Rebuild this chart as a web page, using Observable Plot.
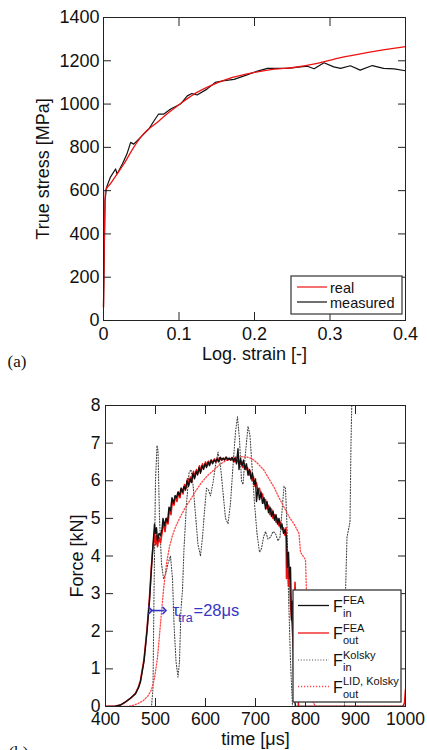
<!DOCTYPE html>
<html><head><meta charset="utf-8">
<script src="https://cdn.jsdelivr.net/npm/d3@7"></script>
<script src="https://cdn.jsdelivr.net/npm/@observablehq/plot@0.6"></script>
<style>
html,body{margin:0;padding:0;background:#fff;width:427px;height:750px;overflow:hidden}
#wrap svg{display:block}
</style></head><body><div id="wrap"></div>
<script>
// ---------- data: chart (a) ----------
const xTicksA = [0, 0.1, 0.2, 0.3, 0.4];
const yTicksA = [0, 200, 400, 600, 800, 1000, 1200, 1400];
const legendA = ["real", "measured"];
const realCurve = [[0,60],[0.001,350],[0.0026,600],[0.009,631],[0.018,677],[0.027,723],[0.040,800],[0.053,862],[0.071,915],[0.084,954],[0.1,997],[0.12,1046],[0.142,1085],[0.164,1115],[0.2,1146],[0.226,1161],[0.252,1169],[0.283,1188],[0.314,1215],[0.349,1238],[0.4,1265]];
const measuredCurve = [[0,62],[0.001,308],[0.002,554],[0.004,615],[0.009,661],[0.016,700],[0.018,677],[0.025,723],[0.031,769],[0.036,823],[0.04,815],[0.049,846],[0.06,885],[0.067,923],[0.073,954],[0.08,954],[0.089,977],[0.102,1000],[0.111,1038],[0.117,1049],[0.124,1042],[0.137,1069],[0.148,1100],[0.16,1108],[0.173,1114],[0.19,1135],[0.203,1151],[0.217,1165],[0.23,1165],[0.243,1165],[0.261,1172],[0.27,1175],[0.279,1163],[0.292,1191],[0.305,1172],[0.314,1165],[0.327,1177],[0.34,1157],[0.356,1178],[0.371,1165],[0.385,1163],[0.4,1154]];

// ---------- data: chart (b) ----------
const xTicksB = [400, 500, 600, 700, 800, 900, 1000];
const yTicksB = [0, 1, 2, 3, 4, 5, 6, 7, 8];
const legendB = [["FEA","in"],["FEA","out"],["Kolsky","in"],["LID, Kolsky","out"]];
const tauSpan = [490, 518];
const tauLevel = 2.55;
const feaIn = [[400,0],[420,0.01],[430,0.04],[440,0.12],[450,0.22],[460,0.34],[466,0.5],[470,0.66],[477,1.2],[483,2.0],[488,2.8],[492,3.7],[495,4.3],[498,4.85],[500,4.6],[502,4.75],[504,4.4],[507,4.6],[510,4.55],[513,4.7],[515,5.0],[518,4.8],[521,5.0],[524,4.9],[527,5.3],[530,5.2],[533,5.55],[536,5.4],[539,5.6],[542,5.55],[545,5.7],[548,5.6],[551,5.8],[554,5.7],[557,5.85],[560,5.75],[563,6.0],[566,5.85],[569,6.05],[572,5.95],[575,6.2],[578,6.05],[581,6.25],[584,6.15],[587,6.35],[590,6.2],[593,6.4],[596,6.3],[599,6.45],[602,6.35],[605,6.5],[608,6.4],[611,6.55],[614,6.45],[617,6.55],[620,6.5],[623,6.58],[626,6.5],[629,6.62],[632,6.55],[635,6.6],[638,6.55],[641,6.63],[644,6.56],[647,6.6],[650,6.55],[653,6.62],[656,6.52],[659,6.6],[662,6.45],[665,6.85],[667,6.3],[670,6.6],[673,6.4],[676,6.55],[679,6.3],[682,6.45],[685,6.15],[688,6.3],[691,6.05],[694,6.2],[697,5.9],[700,6.05],[702,5.45],[705,5.8],[708,5.5],[711,5.7],[714,5.4],[717,5.55],[720,5.25],[723,5.45],[726,5.15],[729,5.3],[732,5.05],[735,5.2],[738,4.95],[741,5.1],[744,4.85],[747,5.0],[750,4.75],[753,4.85],[756,4.6],[759,4.7],[762,4.5],[764,3.7],[766,4.1],[768,3.4],[770,3.7],[772,2.3],[774,2.8],[776,1.0],[778,0.2],[780,0],[1000,0]];
const feaOut = [[400,0],[420,0.01],[430,0.04],[440,0.12],[450,0.22],[460,0.35],[466,0.52],[470,0.7],[477,1.25],[483,2.05],[488,2.9],[492,3.75],[495,4.25],[498,4.6],[500,4.3],[502,4.55],[504,4.25],[507,4.5],[510,4.35],[513,4.6],[516,4.9],[519,4.65],[522,5.0],[525,4.85],[528,5.25],[531,5.1],[534,5.5],[537,5.35],[540,5.6],[543,5.45],[546,5.7],[549,5.55],[552,5.8],[555,5.65],[558,5.9],[561,5.8],[564,6.05],[567,5.9],[570,6.1],[573,6.0],[576,6.25],[579,6.1],[582,6.3],[585,6.2],[588,6.4],[591,6.25],[594,6.45],[597,6.35],[600,6.5],[603,6.4],[606,6.52],[609,6.45],[612,6.55],[615,6.48],[618,6.58],[621,6.5],[624,6.6],[627,6.52],[630,6.62],[633,6.55],[636,6.6],[639,6.56],[642,6.62],[645,6.55],[648,6.6],[651,6.55],[654,6.6],[657,6.5],[660,6.62],[663,6.5],[666,6.55],[669,6.45],[672,6.5],[675,6.35],[678,6.45],[681,6.3],[684,6.35],[687,6.15],[690,6.25],[693,6.0],[696,6.1],[699,5.85],[702,5.95],[705,5.7],[708,5.8],[711,5.55],[714,5.65],[717,5.4],[720,5.5],[723,5.25],[726,5.35],[729,5.1],[732,5.25],[735,5.0],[738,5.1],[741,4.9],[744,5.0],[747,4.8],[750,4.9],[753,4.7],[756,4.75],[759,4.55],[761,4.75],[762,3.4],[764,3.9],[766,3.2],[768,3.6],[770,2.7],[773,2.2],[776,1.5],[779,3.3],[781,2.5],[783,0.8],[786,0],[995,0],[998,0.1],[1000,0.45]];
const kolskyIn = [[400,0],[492,0],[495,0.5],[497,3.0],[500,6.0],[503,6.94],[505,6.8],[508,5.0],[512,3.8],[516,3.4],[520,3.5],[525,3.8],[530,4.0],[534,3.4],[537,2.2],[541,1.2],[545,0.78],[548,1.2],[551,2.6],[554,3.1],[557,4.2],[562,5.4],[567,6.2],[571,6.3],[575,5.9],[580,5.1],[585,4.3],[590,4.0],[594,4.5],[598,5.2],[602,5.8],[606,5.75],[610,5.6],[615,5.95],[620,6.4],[625,6.76],[630,6.4],[635,5.7],[640,5.0],[645,4.86],[650,5.4],[655,6.4],[660,7.3],[664,7.7],[668,7.1],[672,6.0],[675,5.9],[679,6.6],[685,7.45],[689,7.2],[693,6.4],[698,5.4],[703,4.6],[708,4.1],[712,4.2],[716,4.5],[720,4.65],[725,4.45],[730,4.5],[735,4.65],[740,4.6],[745,4.4],[749,4.5],[753,5.2],[757,5.85],[760,5.8],[763,4.8],[766,3.0],[770,1.2],[774,0],[878,0],[880,3.0],[883,4.5],[889,4.9],[891,7.0],[894,9.0]];
const kolskyOut = [[400,0],[445,0],[455,0.03],[465,0.08],[475,0.15],[485,0.28],[492,0.45],[498,0.75],[504,1.3],[510,2.2],[516,3.1],[522,3.8],[528,4.25],[534,4.55],[541,4.8],[550,5.05],[560,5.3],[570,5.5],[580,5.72],[592,5.95],[605,6.15],[618,6.3],[630,6.45],[643,6.55],[657,6.62],[670,6.64],[683,6.63],[690,6.6],[697,6.55],[705,6.45],[717,6.28],[727,6.05],[737,5.83],[747,5.55],[757,5.3],[767,5.05],[777,4.85],[787,4.6],[790,4.1],[795,4.0],[800,3.9],[802,3.0],[806,1.5],[812,0.2],[820,0],[1000,0]];

// ---------- styling ----------
const FONT = "'Liberation Sans', Arial, Helvetica, sans-serif";
const SERIF = "'Liberation Serif', 'Times New Roman', serif";
const RED = "#ee1111", BLACK = "#111", GREY = "#444", PINK = "#ff4545", BLUE = "#3636c4";
const fmt = d => String(d);

function inwardTicks(xT, yT, size) {
  return [
    Plot.axisX(xT, {anchor: "bottom", tickSize: size, dy: -size, tickFormat: () => "", label: null, stroke: "#222"}),
    Plot.axisX(xT, {anchor: "top", tickSize: size, dy: size, tickFormat: () => "", label: null, stroke: "#222"}),
    Plot.axisY(yT, {anchor: "left", tickSize: size, dx: size, tickFormat: () => "", label: null, stroke: "#222"}),
    Plot.axisY(yT, {anchor: "right", tickSize: size, dx: -size, tickFormat: () => "", label: null, stroke: "#222"})
  ];
}

// ---------- chart (a) ----------
const plotA = Plot.plot({
  width: 427, height: 370,
  marginLeft: 103, marginRight: 22, marginTop: 17, marginBottom: 50,
  style: {fontFamily: FONT, fontSize: "18px", background: "white", color: "#111", overflow: "visible"},
  x: {domain: [0, 0.4]},
  y: {domain: [0, 1400]},
  marks: [
    Plot.line(measuredCurve, {x: d => d[0], y: d => d[1], stroke: BLACK, strokeWidth: 1.2}),
    Plot.line(realCurve, {x: d => d[0], y: d => d[1], stroke: RED, strokeWidth: 1.3, curve: "monotone-x"}),
    ...inwardTicks(xTicksA, yTicksA, 8),
    Plot.axisX(xTicksA, {anchor: "bottom", tickSize: 0, tickPadding: 7, tickFormat: fmt, fontSize: 18, label: null}),
    Plot.axisY(yTicksA, {anchor: "left", tickSize: 0, tickPadding: 4, tickFormat: fmt, fontSize: 18, label: null}),
    Plot.frame({stroke: "#222"}),
    Plot.text(["Log. strain [-]"], {text: d => d, frameAnchor: "bottom", dy: 34, fontSize: 18, textAnchor: "middle", lineAnchor: "middle"}),
    Plot.text(["True stress [MPa]"], {text: d => d, frameAnchor: "left", dx: -60, rotate: -90, fontSize: 18, textAnchor: "middle", lineAnchor: "middle"}),
    Plot.text(["(a)"], {text: d => d, frameAnchor: "bottom-left", dx: -96, dy: 41, textAnchor: "start", lineAnchor: "middle", fontSize: 17, fontFamily: SERIF})
  ]
});

(function legendAdd() {
  const g = d3.select(plotA).append("g").attr("font-family", FONT).attr("text-anchor", "start");
  g.append("rect").attr("x", 291).attr("y", 276).attr("width", 111).attr("height", 38)
    .attr("fill", "white").attr("stroke", "#333").attr("stroke-width", 1.2);
  const colors = [RED, BLACK];
  const rows = [287, 302];
  legendA.forEach((lab, i) => {
    g.append("line").attr("x1", 297).attr("x2", 327).attr("y1", rows[i]).attr("y2", rows[i])
      .attr("stroke", colors[i]).attr("stroke-width", 1.2);
    g.append("text").attr("x", 330).attr("y", rows[i] + 5.5).attr("font-size", 14.5).attr("fill", "#111").text(lab);
  });
})();

// ---------- chart (b) ----------
const plotB = Plot.plot({
  width: 427, height: 380,
  marginLeft: 105, marginRight: 22, marginTop: 35, marginBottom: 44,
  style: {fontFamily: FONT, fontSize: "17.5px", background: "white", color: "#111", overflow: "visible"},
  x: {domain: [400, 1000]},
  y: {domain: [0, 8]},
  marks: [
    Plot.line(kolskyIn, {x: d => d[0], y: d => d[1], stroke: GREY, strokeWidth: 1.1, strokeDasharray: "1,1.8", clip: true}),
    Plot.line(kolskyOut, {x: d => d[0], y: d => d[1], stroke: PINK, strokeWidth: 1.3, strokeDasharray: "1.2,1.8", clip: true}),
    Plot.line(feaOut, {x: d => d[0], y: d => d[1], stroke: RED, strokeWidth: 1.6, clip: true}),
    Plot.line(feaIn, {x: d => d[0], y: d => d[1], stroke: BLACK, strokeWidth: 1.4, clip: true}),
    ...inwardTicks(xTicksB, yTicksB, 8),
    Plot.axisX(xTicksB, {anchor: "bottom", tickSize: 0, tickPadding: 6, tickFormat: fmt, fontSize: 17.5, label: null}),
    Plot.axisY(yTicksB, {anchor: "left", tickSize: 0, tickPadding: 5, tickFormat: fmt, fontSize: 17.5, label: null}),
    Plot.frame({stroke: "#222"}),
    Plot.link([tauSpan], {x1: d => d[0], x2: d => d[1], y1: () => tauLevel, y2: () => tauLevel,
      stroke: BLUE, strokeWidth: 1.6, markerStart: "arrow", markerEnd: "arrow"}),
    Plot.text([tauSpan], {x: d => d[1], y: () => tauLevel, text: () => "τ", dx: 8, textAnchor: "start", fontSize: 17, fill: BLUE}),
    Plot.text([tauSpan], {x: d => d[1], y: () => tauLevel, text: () => "tra", dx: 13.5, dy: 7.5, textAnchor: "start", fontSize: 12.5, fill: BLUE}),
    Plot.text([tauSpan], {x: d => d[1], y: () => tauLevel, text: d => `=${d[1] - d[0]}μs`, dx: 29, textAnchor: "start", fontSize: 16.5, fill: BLUE}),
    Plot.text(["time [μs]"], {text: d => d, frameAnchor: "bottom", dy: 33, fontSize: 18, textAnchor: "middle", lineAnchor: "middle"}),
    Plot.text(["Force [kN]"], {text: d => d, frameAnchor: "left", dx: -28, rotate: -90, fontSize: 18, textAnchor: "middle", lineAnchor: "middle"}),
    Plot.text(["(b)"], {text: d => d, frameAnchor: "bottom-left", dx: -97, dy: 46, textAnchor: "start", lineAnchor: "middle", fontSize: 17, fontFamily: SERIF})
  ]
});

(function legendBAdd() {
  const g = d3.select(plotB).append("g").attr("font-family", FONT).attr("text-anchor", "start");
  g.append("rect").attr("x", 293).attr("y", 220).attr("width", 108).attr("height", 112)
    .attr("fill", "white").attr("stroke", "#333").attr("stroke-width", 1.3);
  const styles = [
    {stroke: BLACK, dash: null, w: 1.3},
    {stroke: RED, dash: null, w: 1.3},
    {stroke: GREY, dash: "1,1.8", w: 1.1},
    {stroke: PINK, dash: "1.2,1.8", w: 1.3}
  ];
  const lineY = [235.5, 263, 290, 316.5];
  legendB.forEach(([sup, sub], i) => {
    const s = styles[i];
    g.append("line").attr("x1", 298).attr("x2", 329).attr("y1", lineY[i]).attr("y2", lineY[i])
      .attr("stroke", s.stroke).attr("stroke-width", s.w).attr("stroke-dasharray", s.dash);
    const base = lineY[i] + 6;
    g.append("text").attr("x", 333).attr("y", base).attr("font-size", 16).attr("fill", "#111").text("F");
    g.append("text").attr("x", 343).attr("y", base - 7.5).attr("font-size", 11).attr("fill", "#111").text(sup);
    g.append("text").attr("x", 343).attr("y", base + 5).attr("font-size", 11).attr("fill", "#111").text(sub);
  });
})();

document.getElementById("wrap").append(plotA, plotB);
</script></body></html>
